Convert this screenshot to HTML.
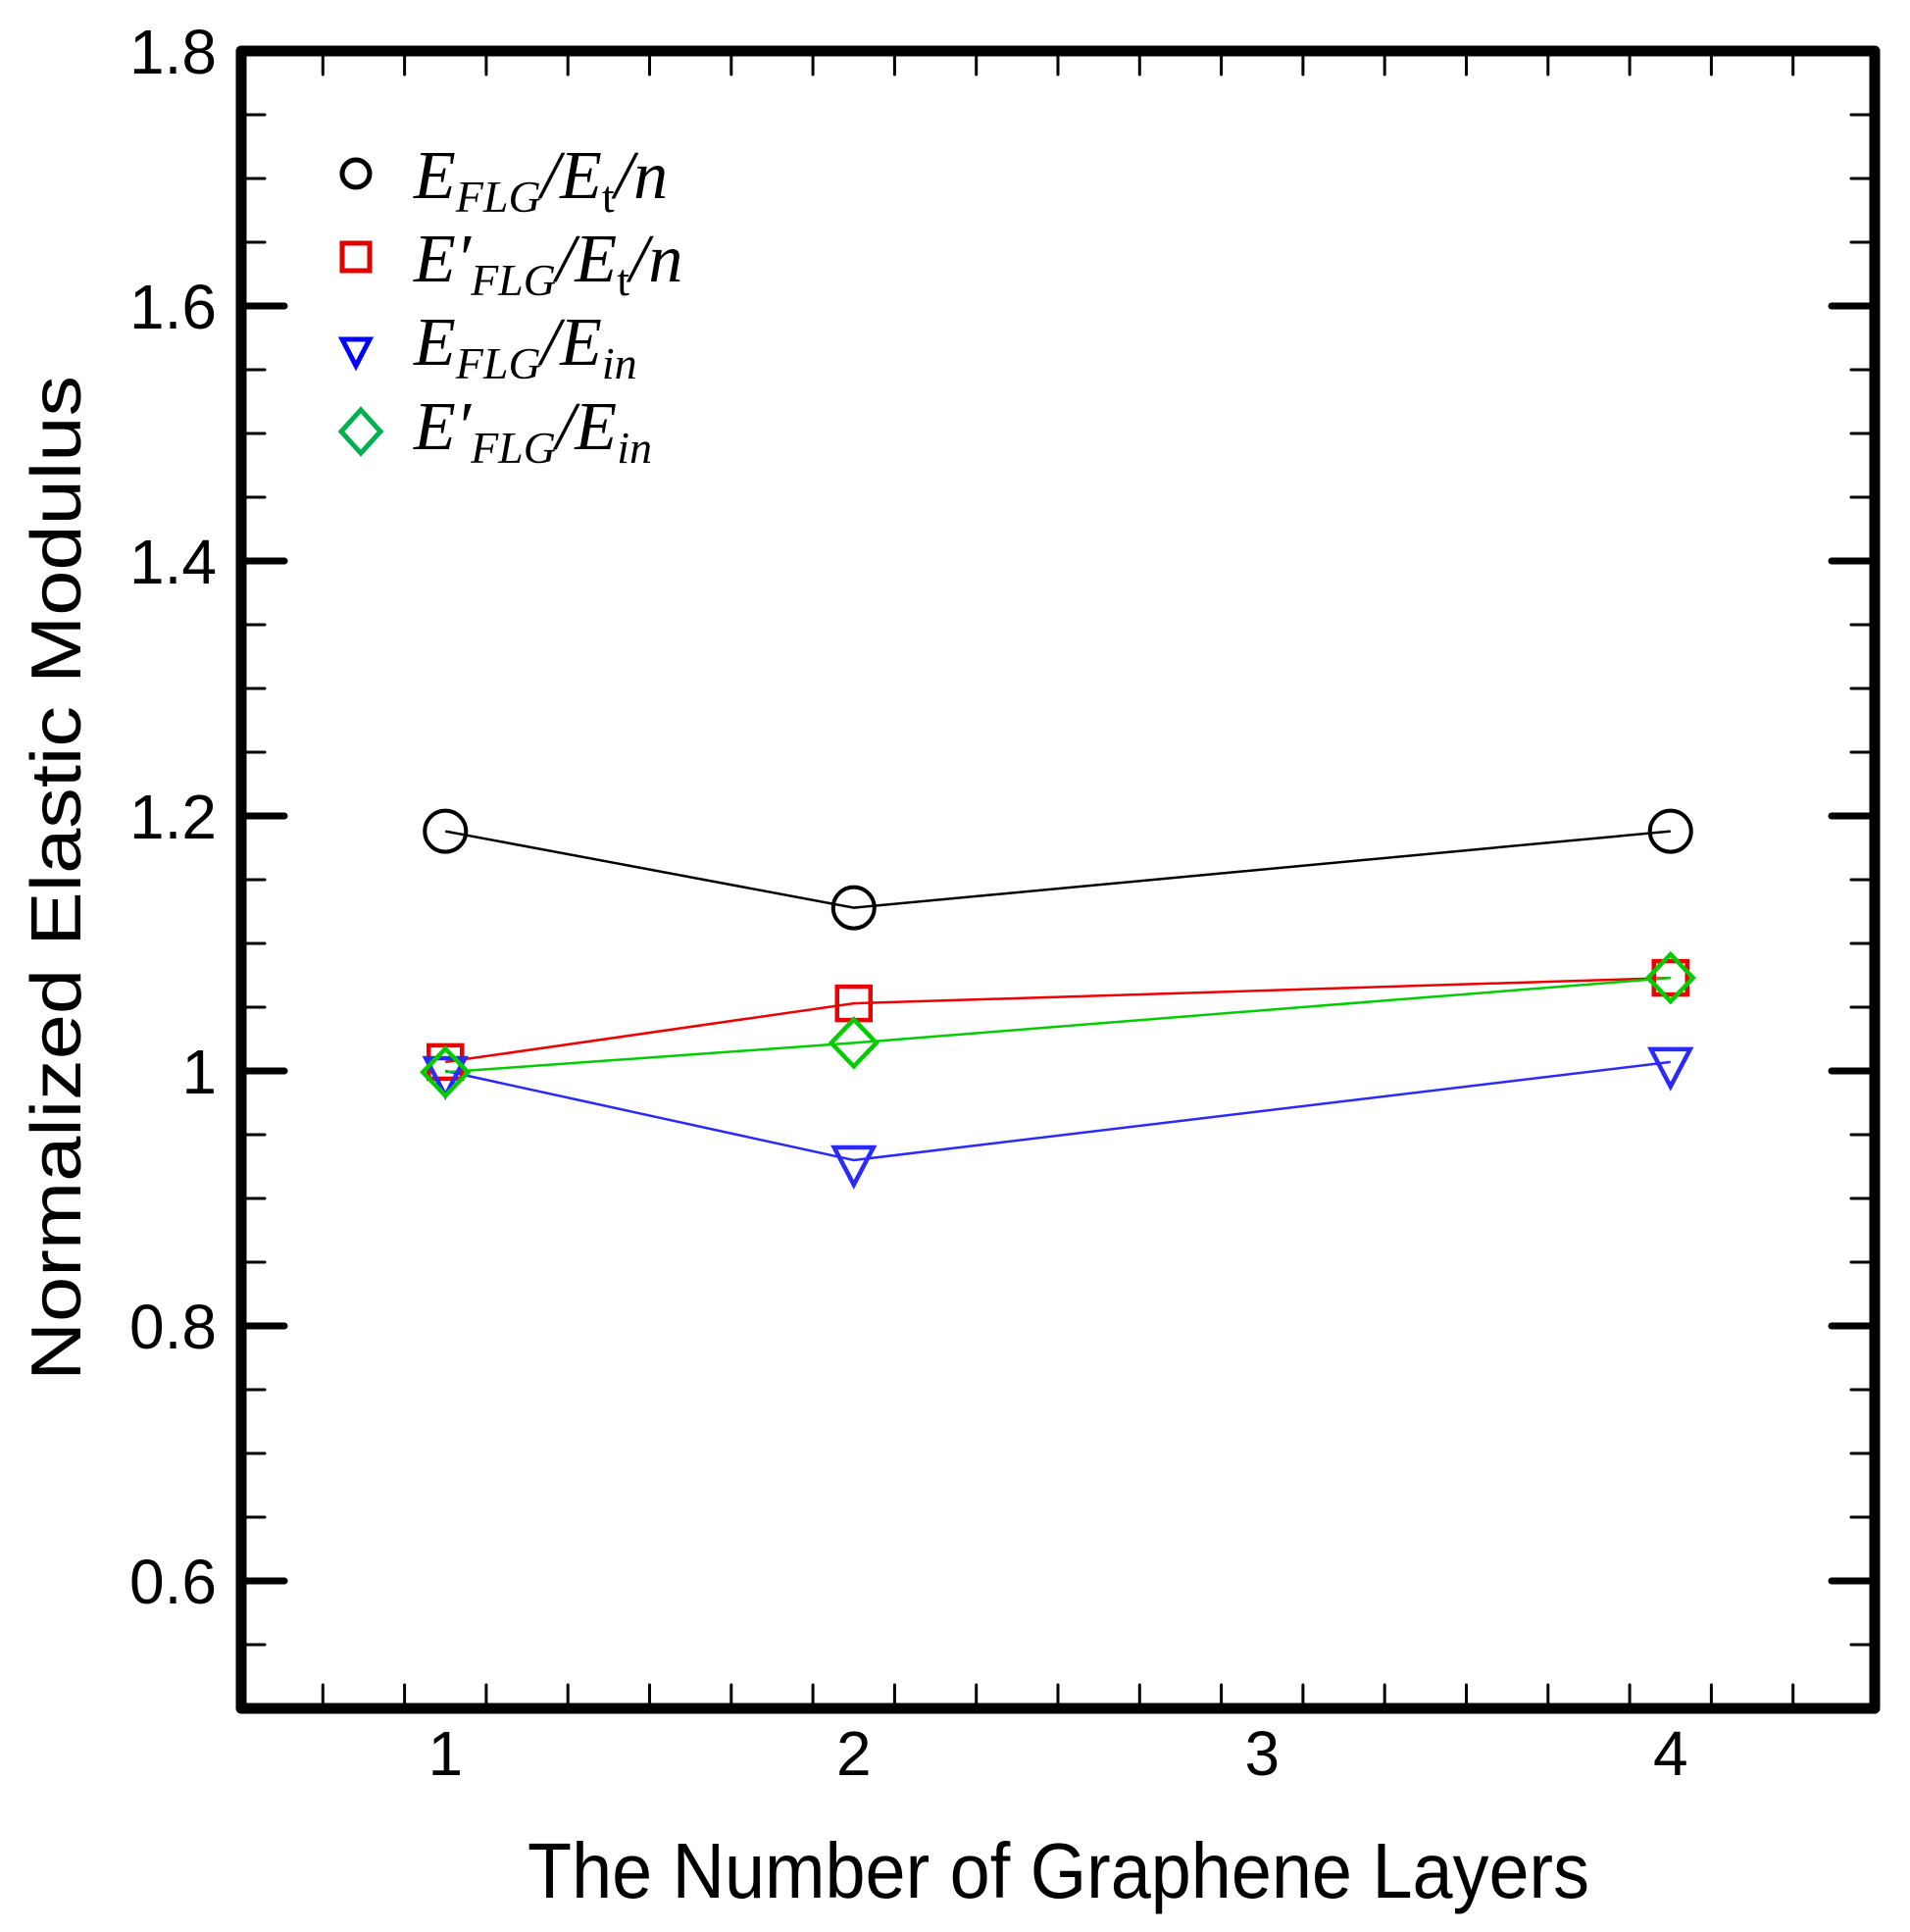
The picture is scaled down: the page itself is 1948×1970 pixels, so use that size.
<!DOCTYPE html>
<html><head><meta charset="utf-8"><style>
html,body{margin:0;padding:0;background:#fff;}
svg{display:block;}
</style></head><body>
<svg id="chart" width="1948" height="1970" viewBox="0 0 1948 1970" xmlns="http://www.w3.org/2000/svg">
<g id="ticks"></g>
<g id="lines"></g>
<g id="marks"></g>
<rect x="246" y="52" width="1666" height="1690" fill="none" stroke="#000" stroke-width="11" stroke-linejoin="round"/>
<g id="labels" font-family="Liberation Sans, sans-serif" font-size="64" fill="#000"></g>
<text x="538" y="1935" font-family="Liberation Sans, sans-serif" font-size="80" textLength="1083" lengthAdjust="spacingAndGlyphs">The Number of Graphene Layers</text>
<text transform="translate(82,1408) rotate(-90)" x="0" y="0" font-family="Liberation Sans, sans-serif" font-size="72" textLength="1025" lengthAdjust="spacingAndGlyphs">Normalized Elastic Modulus</text>
<g font-family="Liberation Serif, serif" font-style="italic" fill="#000">
  <circle cx="363" cy="177" r="14" fill="none" stroke="#000" stroke-width="5"/>
  <text x="422" y="202" font-size="70">E<tspan font-size="46" dy="14">FLG</tspan><tspan dy="-14">/E</tspan><tspan font-style="normal" font-size="46" dy="14">t</tspan><tspan dy="-14">/n</tspan></text>
  <rect x="349" y="248" width="28" height="28" fill="none" stroke="#e00000" stroke-width="5"/>
  <text x="422" y="287" font-size="70">E′<tspan font-size="46" dy="14">FLG</tspan><tspan dy="-14">/E</tspan><tspan font-style="normal" font-size="46" dy="14">t</tspan><tspan dy="-14">/n</tspan></text>
  <polygon points="349,346 377,346 363,373" fill="none" stroke="#0000ff" stroke-width="5"/>
  <text x="422" y="372" font-size="70">E<tspan font-size="46" dy="14">FLG</tspan><tspan dy="-14">/E</tspan><tspan font-size="46" dy="14">in</tspan></text>
  <polygon points="368,418 388,440 368,462 348,440" fill="none" stroke="#00b050" stroke-width="5"/>
  <text x="422" y="458" font-size="70">E′<tspan font-size="46" dy="14">FLG</tspan><tspan dy="-14">/E</tspan><tspan font-size="46" dy="14">in</tspan></text>
</g>
</svg>
<script>
const layers = [1, 2, 4];
const circleVals = [1.188, 1.128, 1.188];
const squareVals = [1.007, 1.053, 1.073];
const triangleVals = [1.0, 0.93, 1.007];
const diamondVals = [0.999, 1.022, 1.073];
const xTickLabels = ["1", "2", "3", "4"];
const yTickLabels = ["0.6", "0.8", "1", "1.2", "1.4", "1.6", "1.8"];

const NS = "http://www.w3.org/2000/svg";
const X0 = 246, X1 = 1912, Y0 = 1742, Y1 = 52;
const xMin = 0.5, xMax = 4.5, yMin = 0.5, yMax = 1.8;
function xs(v){ return X0 + (v - xMin) / (xMax - xMin) * (X1 - X0); }
function ys(v){ return Y0 - (v - yMin) / (yMax - yMin) * (Y0 - Y1); }
function mk(tag, attrs, parent){
  const e = document.createElementNS(NS, tag);
  for (const k in attrs) e.setAttribute(k, attrs[k]);
  parent.appendChild(e);
  return e;
}
const ticks = document.getElementById('ticks');
const labels = document.getElementById('labels');
const lines = document.getElementById('lines');
const marks = document.getElementById('marks');

// x ticks
for (let i = 0; i <= 20; i++) {
  const v = 0.5 + i * 0.2;
  const major = Math.abs(v - Math.round(v)) < 1e-6;
  const len = major ? 42 : 24, w = major ? 7 : 3;
  const x = xs(v);
  const t1 = mk('line', {x1:x, x2:x, y1:Y0, y2:Y0-len, stroke:'#000','stroke-width':w,'stroke-linecap':'round'}, ticks);
  
  
  const t2 = mk('line', {x1:x, x2:x, y1:Y1, y2:Y1+len, stroke:'#000','stroke-width':w,'stroke-linecap':'round'}, ticks);
  
  
}
xTickLabels.forEach(function(s){
  const t = mk('text', {x:xs(parseFloat(s)), y:1810, 'text-anchor':'middle'}, labels);
  t.textContent = s;
  
  
});
// y ticks
for (let i = 0; i <= 26; i++) {
  const v = 0.5 + i * 0.05;
  const major = Math.abs(v * 5 - Math.round(v * 5)) < 1e-6 && i > 0 && i < 26;
  const len = major ? 44 : 24, w = major ? 7 : 3;
  const y = ys(v);
  const t1 = mk('line', {x1:X0, x2:X0+len, y1:y, y2:y, stroke:'#000','stroke-width':w,'stroke-linecap':'round'}, ticks);
  
  
  const t2 = mk('line', {x1:X1, x2:X1-len, y1:y, y2:y, stroke:'#000','stroke-width':w,'stroke-linecap':'round'}, ticks);
  
  
}
yTickLabels.forEach(function(s){
  const t = mk('text', {x:221, y:ys(parseFloat(s)) + 23, 'text-anchor':'end'}, labels);
  t.textContent = s;
  
  
});

function series(vals, color, shape, name){
  const pts = layers.map(function(l, i){ return xs(l) + ',' + ys(vals[i]); }).join(' ');
  const pl = mk('polyline', {points:pts, fill:'none', stroke:color, 'stroke-width':2.5}, lines);
  
  
  layers.forEach(function(l, i){
    const cx = xs(l), cy = ys(vals[i]);
    let e;
    if (shape === 'circle') e = mk('circle', {cx:cx, cy:cy, r:21, fill:'none', stroke:color, 'stroke-width':4}, marks);
    else if (shape === 'square') e = mk('rect', {x:cx-17, y:cy-17, width:34, height:34, fill:'none', stroke:color, 'stroke-width':4.5}, marks);
    else if (shape === 'triangle') e = mk('polygon', {points:(cx-20)+','+(cy-13)+' '+(cx+20)+','+(cy-13)+' '+cx+','+(cy+25), fill:'none', stroke:color, 'stroke-width':4.5}, marks);
    else e = mk('polygon', {points:cx+','+(cy-24)+' '+(cx+23)+','+cy+' '+cx+','+(cy+24)+' '+(cx-23)+','+cy, fill:'none', stroke:color, 'stroke-width':4.5}, marks);
    
    
  });
}
series(circleVals, '#000000', 'circle', 'eflg-et-n');
series(squareVals, '#ee0000', 'square', 'eflg-prime-et-n');
series(triangleVals, '#2a2aff', 'triangle', 'eflg-ein');
series(diamondVals, '#00cc00', 'diamond', 'eflg-prime-ein');
</script>
</body></html>
